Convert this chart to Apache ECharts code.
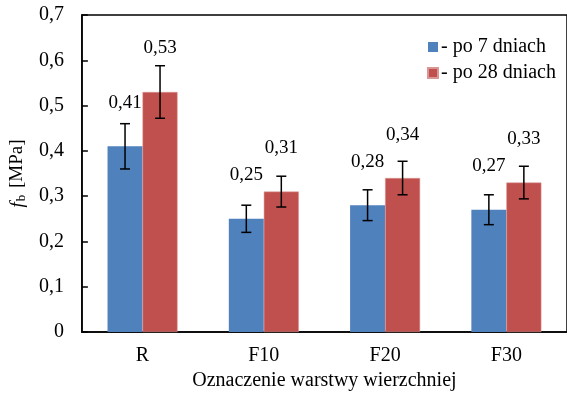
<!DOCTYPE html>
<html>
<head>
<meta charset="utf-8">
<script src="https://cdn.jsdelivr.net/npm/echarts@6/dist/echarts.min.js"></script>
<style>
  html, body { margin: 0; padding: 0; background: #fff; }
  #chart { width: 567px; height: 396px; }
</style>
</head>
<body>
<div id="chart"></div>
<script>
const categories = ['R', 'F10', 'F20', 'F30']
const values7 = [0.41, 0.25, 0.28, 0.27]
const values28 = [0.53, 0.31, 0.34, 0.33]
const err7 = [0.05, 0.03, 0.034, 0.033]
const err28 = [0.058, 0.034, 0.037, 0.036]
const yTicks = { min: 0, max: 0.7, interval: 0.1 }

const FONT = 'Liberation Serif'
const FS = 20
const BAR_W = 35

const comma = (v, d) => (v === 0 ? '0' : v.toFixed(d).replace('.', ','))

function errorSeries(values, errs, offset) {
  return {
    type: 'custom',
    z: 10,
    silent: true,
    data: values.map((v, i) => [i, v, errs[i]]),
    renderItem: (params, api) => {
      const i = api.value(0)
      const v = api.value(1)
      const e = api.value(2)
      const hi = api.coord([i, v + e])
      const lo = api.coord([i, v - e])
      const x = hi[0] + offset
      const cap = 5
      const style = { stroke: '#000', lineWidth: 1.5 }
      return {
        type: 'group',
        children: [
          { type: 'line', shape: { x1: x, y1: hi[1], x2: x, y2: lo[1] }, style },
          { type: 'line', shape: { x1: x - cap, y1: hi[1], x2: x + cap, y2: hi[1] }, style },
          { type: 'line', shape: { x1: x - cap, y1: lo[1], x2: x + cap, y2: lo[1] }, style },
        ],
      }
    },
  }
}

const barLabel = {
  show: true,
  position: 'top',
  distance: 34,
  fontFamily: FONT,
  fontSize: 19,
  color: '#000',
  formatter: (p) => comma(p.value, 2),
}

const chart = echarts.init(document.getElementById('chart'))
chart.setOption({
  animation: false,
  textStyle: { fontFamily: FONT },
  grid: {
    left: 80,
    top: 15,
    width: 494,
    bottom: 62,
    show: true,
    borderColor: '#000',
    borderWidth: 1.5,
  },
  legend: {
    orient: 'vertical',
    left: 422,
    top: 32,
    itemWidth: 10,
    itemHeight: 10,
    itemGap: 6,
    icon: 'rect',
    textStyle: { fontFamily: FONT, fontSize: FS, color: '#000', padding: [0, 0, 0, -2] },
    data: ['- po 7 dniach', '- po 28 dniach'],
  },
  xAxis: {
    type: 'category',
    data: categories,
    name: 'Oznaczenie warstwy wierzchniej',
    nameLocation: 'middle',
    nameGap: 39,
    nameTextStyle: { fontFamily: FONT, fontSize: FS, color: '#000' },
    axisLine: { lineStyle: { color: '#000', width: 1.5 } },
    axisTick: { inside: true, length: 6, lineStyle: { color: '#000', width: 1.5 } },
    axisLabel: { fontFamily: FONT, fontSize: FS, color: '#000', margin: 14 },
  },
  yAxis: {
    type: 'value',
    min: yTicks.min,
    max: yTicks.max,
    interval: yTicks.interval,
    name: '{i|f}{s|b} [MPa]',
    nameLocation: 'middle',
    nameGap: 48,
    nameRotate: 90,
    nameTextStyle: {
      fontFamily: FONT,
      fontSize: 19,
      color: '#000',
      rich: {
        i: { fontFamily: FONT, fontSize: 19, fontStyle: 'italic', color: '#000' },
        s: { fontFamily: FONT, fontSize: 13, color: '#000', verticalAlign: 'bottom', padding: [8, 2, 0, 1] },
      },
    },
    splitLine: { show: false },
    axisLine: { show: true, lineStyle: { color: '#000', width: 1.5 } },
    axisTick: { show: true, inside: true, length: 6, lineStyle: { color: '#000', width: 1.5 } },
    axisLabel: {
      fontFamily: FONT,
      fontSize: FS,
      color: '#000',
      margin: 18,
      formatter: (v) => comma(v, 1),
    },
  },
  series: [
    {
      name: '- po 7 dniach',
      type: 'bar',
      data: values7,
      barWidth: BAR_W,
      barGap: 0,
      itemStyle: { color: '#4F81BD' },
      label: barLabel,
    },
    {
      name: '- po 28 dniach',
      type: 'bar',
      data: values28,
      barWidth: BAR_W,
      barGap: 0,
      itemStyle: { color: '#C0504D', borderColor: '#D99694', borderWidth: 0.5 },
      label: barLabel,
    },
    errorSeries(values7, err7, -BAR_W / 2),
    errorSeries(values28, err28, BAR_W / 2),
  ],
})
</script>
</body>
</html>
